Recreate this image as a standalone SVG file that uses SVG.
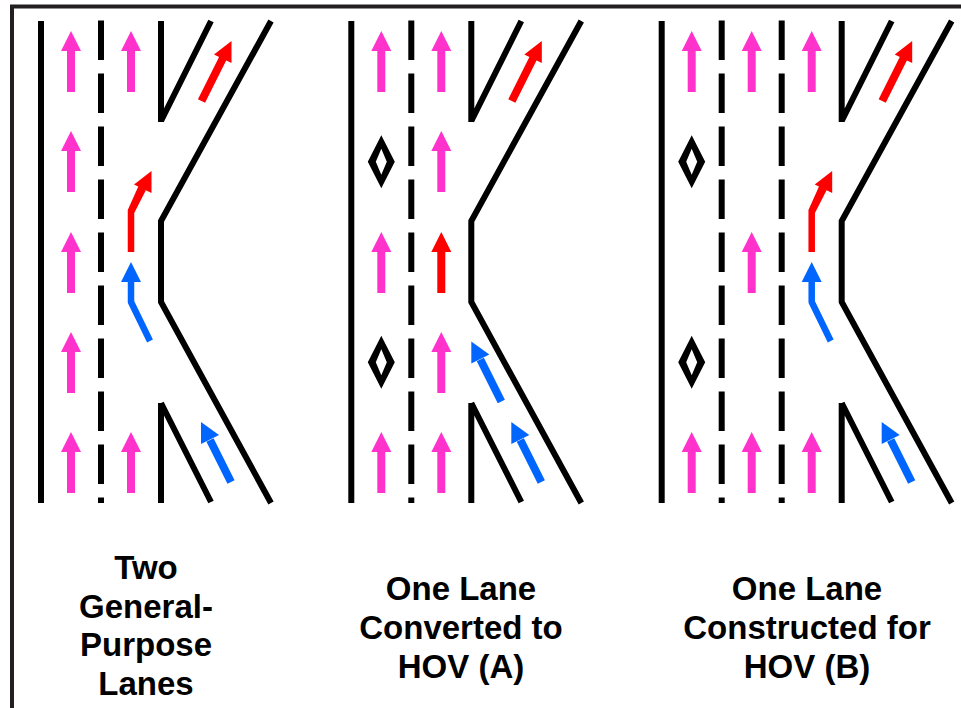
<svg xmlns="http://www.w3.org/2000/svg" xmlns:xlink="http://www.w3.org/1999/xlink" width="961" height="708" viewBox="0 0 961 708">
<style>
.road{fill:none;stroke:#000;stroke-width:6}
.dash{fill:none;stroke:#000;stroke-width:6;stroke-dasharray:39.5 13.5}
.pink{fill:#ff33cc}.red{fill:#f00}.blue{fill:#0066ff}
.pinkl{stroke:#ff33cc}.redl{stroke:#f00}.bluel{stroke:#0066ff}
.shaft{fill:none;stroke-width:8;stroke-linejoin:bevel}
.thin{stroke-width:6.500}
text{font-family:"Liberation Sans",Arial,sans-serif;font-weight:bold;font-size:33px;text-anchor:middle;fill:#000}
</style>
<defs>
<g id="up-pink"><path class="pink" d="M0,0 L10,20 H4 V61 H-4 V20 H-10 Z"/></g>
<g id="up-red"><path class="red" d="M0,0 L10,20 H4 V61 H-4 V20 H-10 Z"/></g>
<g id="diamond"><path fill="#000" fill-rule="evenodd" d="M0,-26.5 L13.500,0 L0,26.5 L-13.500,0 Z M0,-13 L-5.5,0 L0,13 L5.5,0 Z"/></g>
<g id="road-left">
<path class="road" d="M41,21 V503"/>
<path class="dash" d="M101,20.5 V503"/>
</g>
<g id="road-right">
<path class="road" d="M161,21 V122 M161,121 L211,21 M271,21 L161,221 V302 L271,503 M161,403 V503 M161,403 L211,502"/>
</g>
<g id="red-top"><path class="shaft redl" d="M201.500,101 L223,58"/><path class="red" d="M231.500,41 V63 L214,54.500 Z"/></g>
<g id="blue-low"><path class="shaft bluel" d="M231,482 L210,440"/><path class="blue" d="M201,422 V444 L219,435 Z"/></g>
<g id="red-bent"><path class="red" d="M-3.250,81 V39 L7.500,15 L15,19 L3.250,42 V81 Z"/><path class="red" d="M20.500,0 V22 L3,13.500 Z"/></g>
<g id="blue-bent"><path class="shaft thin bluel" d="M0,20 V40 L19,79"/><path class="blue" d="M0,0 L10,20 H-10 Z"/></g>
</defs>
<g id="frame"><path fill="none" stroke="#231f20" stroke-width="4" d="M12,708 V6.500 H961"/></g>

<g id="connectors">
<use id="roads-1a" href="#road-left"/>
<use id="roads-1b" href="#road-right"/>
<use id="roads-2a" href="#road-left" x="310.300"/>
<use id="roads-2b" href="#road-right" x="310.300"/>
<use id="roads-3a" href="#road-left" x="620.700"/>
<path class="dash" d="M781.700,20.500 V503"/>
<use id="roads-3b" href="#road-right" x="680.700"/>
</g>

<g id="panel-a">
<use href="#up-pink" x="71" y="31"/><use href="#up-pink" x="71" y="131"/><use href="#up-pink" x="71" y="232"/><use href="#up-pink" x="71" y="332"/><use href="#up-pink" x="71" y="432"/>
<use href="#up-pink" x="131" y="31"/><use href="#up-pink" x="131" y="432"/>
<use href="#red-bent" x="131" y="171"/><use href="#blue-bent" x="131" y="262"/>
<use href="#red-top"/><use href="#blue-low"/>
<text x="146" y="578.500">Two</text><text x="146" y="617.500">General-</text><text x="146" y="656">Purpose</text><text x="146" y="695">Lanes</text>
</g>

<g id="panel-b">
<use href="#up-pink" x="381.300" y="31"/><use href="#diamond" x="381.300" y="161.700"/><use href="#up-pink" x="381.300" y="232"/><use href="#diamond" x="381.300" y="362.300"/><use href="#up-pink" x="381.300" y="432"/>
<use href="#up-pink" x="441.300" y="31"/><use href="#up-pink" x="441.300" y="131"/><use href="#up-red" x="441.300" y="232"/><use href="#up-pink" x="441.300" y="332"/><use href="#up-pink" x="441.300" y="432"/>
<use href="#red-top" x="310.300"/><use href="#blue-low" x="310.300"/><use href="#blue-low" x="270.300" y="-80.500"/>
<text x="461" y="600">One Lane</text><text x="461" y="639">Converted to</text><text x="461" y="678">HOV (A)</text>
</g>

<g id="panel-c">
<use href="#up-pink" x="691.700" y="31"/><use href="#diamond" x="691.700" y="161.700"/><use href="#diamond" x="691.700" y="362.300"/><use href="#up-pink" x="691.700" y="432"/>
<use href="#up-pink" x="751.700" y="31"/><use href="#up-pink" x="751.700" y="232"/><use href="#up-pink" x="751.700" y="432"/>
<use href="#up-pink" x="811.700" y="31"/><use href="#up-pink" x="811.700" y="432"/>
<use href="#red-bent" x="811.700" y="171"/><use href="#blue-bent" x="811.700" y="262"/>
<use href="#red-top" x="680.700"/><use href="#blue-low" x="680.700"/>
<text x="807" y="600">One Lane</text><text x="807" y="639">Constructed for</text><text x="807" y="678">HOV (B)</text>
</g>
</svg>
